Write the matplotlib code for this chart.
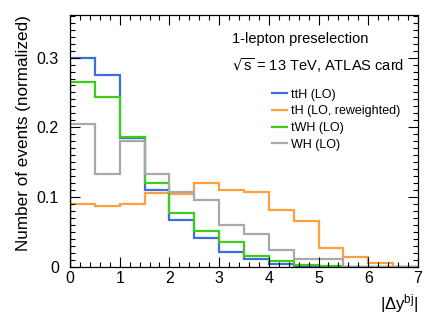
import numpy as np
import matplotlib
matplotlib.use("Agg")
import matplotlib.pyplot as plt
from matplotlib.ticker import MultipleLocator

plt.rcParams['font.family'] = ['Liberation Sans', 'DejaVu Sans']
plt.rcParams['mathtext.default'] = 'regular'

# bin edges in |dy(bj)|
edges = np.arange(0, 7.01, 0.5)

# normalized distributions
tth = [0.300, 0.275, 0.185, 0.111, 0.067, 0.041, 0.022, 0.011, 0.005, 0.002, 0.0005, 0.0, 0.0, 0.0]
th = [0.091, 0.088, 0.091, 0.106, 0.104, 0.121, 0.110, 0.108, 0.082, 0.066, 0.028, 0.014, 0.006, 0.0]
twh = [0.265, 0.244, 0.186, 0.120, 0.078, 0.052, 0.036, 0.016, 0.009, 0.003, 0.001, 0.0, 0.0, 0.0]
wh = [0.205, 0.133, 0.181, 0.133, 0.108, 0.096, 0.060, 0.047, 0.024, 0.012, 0.012, 0.0, 0.0, 0.0]

labels = ['ttH (LO)', 'tH (LO, reweighted)', 'tWH (LO)', 'WH (LO)']
colors = ['#3d6fd6', '#ff9f40', '#3ccc1a', '#a8a8a8']

fig = plt.figure(figsize=(4.41, 3.18), dpi=100)
ax = fig.add_axes([0.1587, 0.160, 0.789, 0.793])

for vals, lab, col in zip([tth, th, twh, wh], labels, colors):
    ax.stairs(vals, edges, color=col, lw=1.6, label=lab)

ax.set_xlim(0, 7)
ax.set_ylim(0, 0.361)

ax.xaxis.set_major_locator(MultipleLocator(1))
ax.xaxis.set_minor_locator(MultipleLocator(0.2))
ax.yaxis.set_major_locator(MultipleLocator(0.1))
ax.yaxis.set_minor_locator(MultipleLocator(0.01))
ax.tick_params(which='both', direction='in', top=True, right=True, labelsize=11.5, width=0.8)
ax.tick_params(which='major', length=7)
ax.tick_params(axis='y', which='major', pad=8)
ax.tick_params(axis='x', which='major', pad=3)
ax.tick_params(which='minor', length=3.5)
ax.set_yticks([0, 0.1, 0.2, 0.3])
ax.set_yticklabels(['0', '0.1', '0.2', '0.3'])
for s in ax.spines.values():
    s.set_linewidth(0.9)

ax.set_ylabel('Number of events (normalized)', fontsize=12.3, loc='top', labelpad=4)
ax.set_xlabel(r'$|\Delta y^{bj}|$', fontsize=12, loc='right', labelpad=4)

ax.text(0.465, 0.905, '1-lepton preselection', transform=ax.transAxes, fontsize=10.5,
        va='center')
ax.text(0.465, 0.80, r'$\sqrt{s}$ = 13 TeV, ATLAS card', transform=ax.transAxes, fontsize=10.5,
        va='center')

ax.legend(loc='upper left', bbox_to_anchor=(0.565, 0.728), frameon=False, fontsize=9,
          handlelength=1.2, handletextpad=0.35, labelspacing=0.38, borderaxespad=0)

fig.savefig('out.png', dpi=100)
